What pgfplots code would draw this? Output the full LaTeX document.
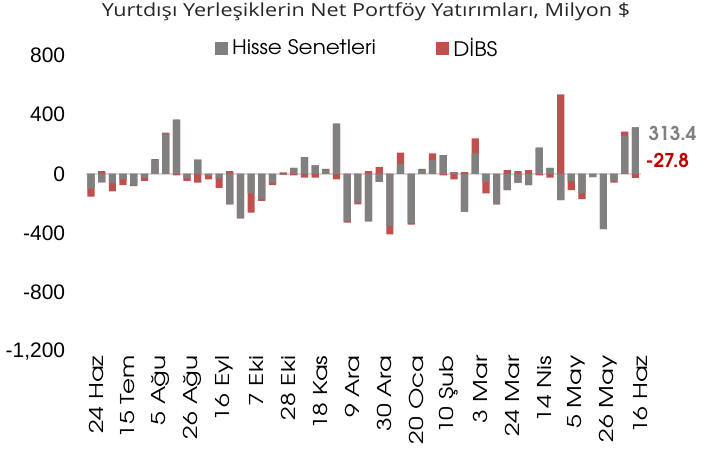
\documentclass[border=0pt]{standalone}
\usepackage{fontspec}
\setmainfont{TeX Gyre Adventor}
\newfontfamily\titlefont[FakeStretch=1.2]{Open Sans}
\newfontfamily\tickfont{Liberation Sans}
\newfontfamily\lblfont[FakeStretch=1.3]{TeX Gyre Adventor}
\newfontfamily\legfont[FakeStretch=1.08]{TeX Gyre Adventor}
\usepackage{pgfplots}
\pgfplotsset{compat=1.18}
\usepackage{pgfplotstable}

\definecolor{hisse}{HTML}{808080}
\definecolor{dibs}{HTML}{C0504D}
\definecolor{lblred}{HTML}{C00000}
\definecolor{zline}{HTML}{D9D9D9}

\pgfplotstableread{
i g r
0 -99 -54
1 -58 18
2 -63 -56
3 -38 -38
4 -76 -7
5 -25 -22
6 92 7
7 271 7
8 365 -11
9 -31 -16
10 96 -60
11 -13 -25
12 -31 -65
13 -206 18
14 -300 0
15 -132 -130
16 -170 -13
17 -63 -13
18 -5 10
19 40 -11
20 112 -25
21 56 -25
22 25 9
23 338 -38
24 -320 -9
25 -193 -13
26 -320 18
27 -54 47
28 -352 -56
29 69 74
30 -330 -13
31 25 9
32 92 45
33 125 -11
34 11 -38
35 -255 11
36 137 101
37 -54 -78
38 -206 0
39 -110 25
40 -60 18
41 -76 25
42 177 -11
43 40 -25
44 -177 535
45 -47 -63
46 -132 -38
47 -22 0
48 -372 0
49 -47 -13
50 255 29
51 313.4 -27.8
}\data

\begin{document}
\begin{tikzpicture}[x=1pt,y=1pt]
\useasboundingbox (0,0) rectangle (704,448);
\begin{axis}[
  at={(85.7pt,96pt)}, anchor=south west,
  width=555pt, height=297pt, scale only axis,
  xmin=-0.5, xmax=51.5, ymin=-1200, ymax=800,
  clip=false,
  axis line style={draw=none},
  major tick length=0pt,
  ytick={-1200,-800,-400,0,400,800},
  yticklabels={{-1,200},-800,-400,0,400,800},
  yticklabel style={font=\tickfont\fontsize{21}{21}\selectfont, anchor=east, xshift=-17pt},
  xtick={0,3,...,51},
  xticklabels={24 Haz,15 Tem,5 Ağu,26 Ağu,16 Eyl,7 Eki,28 Eki,18 Kas,9 Ara,30 Ara,20 Oca,10 Şub,3 Mar,24 Mar,14 Nis,5 May,26 May,16 Haz},
  xticklabel style={rotate=90, anchor=east, font=\lblfont\fontsize{19}{19}\selectfont, yshift=-5pt},
  extra y ticks={0}, extra y tick labels={},
  extra y tick style={grid=major, major grid style={draw=zline, line width=1.6pt}},
  ybar, bar width=7.2pt, bar shift=0pt,
  legend style={at={(0.489,1.0236)}, anchor=center, draw=none, fill=none,
    font=\legfont\fontsize{20}{20}\selectfont, legend columns=2,
    /tikz/every even column/.append style={column sep=58pt}},
]
\addlegendimage{legend image code/.code={\fill[hisse] (0pt,-6pt) rectangle (12pt,6pt); \path (15pt,0pt);}}
\addlegendentry{Hisse Senetleri}
\addlegendimage{legend image code/.code={\fill[dibs] (0pt,-6pt) rectangle (12pt,6pt); \path (15pt,0pt);}}
\addlegendentry{DİBS}
\addplot[fill=dibs, draw=none, forget plot] table[x=i, y expr={max(\thisrow{g},0)+max(\thisrow{r},0)}] \data;
\addplot[fill=dibs, draw=none, forget plot] table[x=i, y expr={min(\thisrow{g},0)+min(\thisrow{r},0)}] \data;
\addplot[fill=hisse, draw=none, forget plot] table[x=i, y expr={max(\thisrow{g},0)}] \data;
\addplot[fill=hisse, draw=none, forget plot] table[x=i, y expr={min(\thisrow{g},0)}] \data;
\end{axis}
\node[font=\titlefont\fontsize{18}{18}\selectfont, text=black!85] at (366,436) {Yurtdışı Yerleşiklerin Net Portföy Yatırımları, Milyon \$};
\node[anchor=west, text=hisse, font=\fontsize{19}{19}\selectfont\bfseries] at (645,315) {313.4};
\node[anchor=west, text=lblred, font=\fontsize{19}{19}\selectfont\bfseries] at (642,288) {-27.8};
\end{tikzpicture}
\end{document}
